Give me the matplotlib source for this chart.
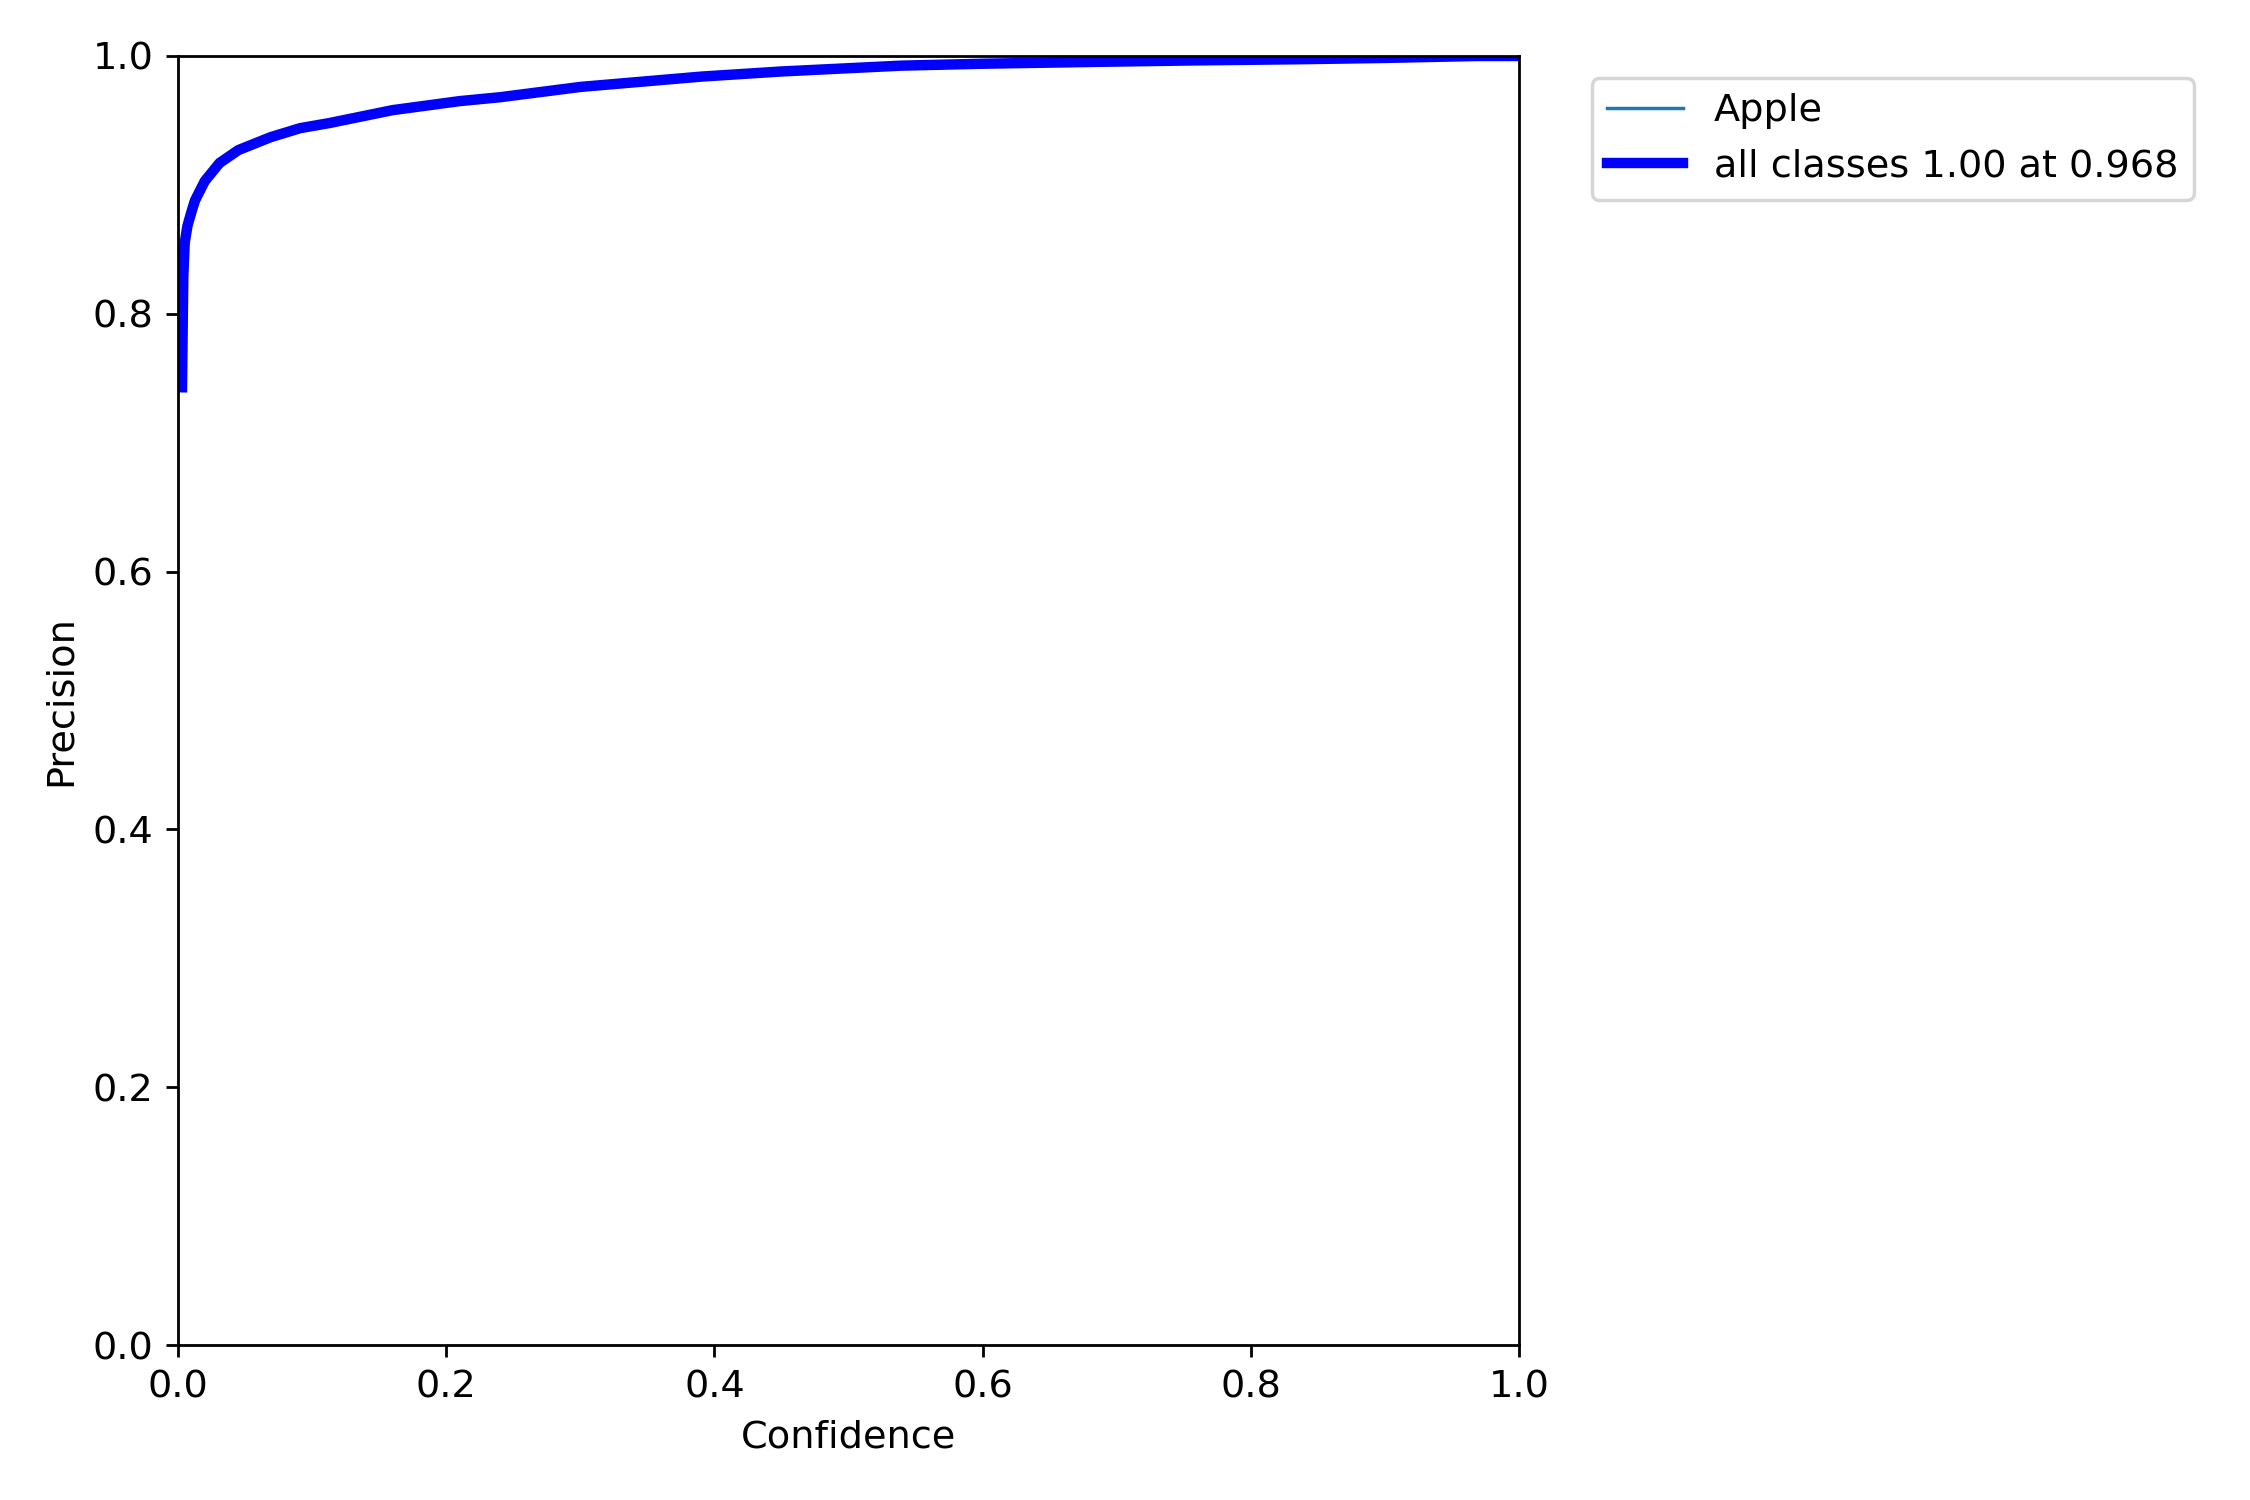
import matplotlib
matplotlib.use("Agg")
import matplotlib.pyplot as plt

plt.rcParams["font.size"] = 11

confidence = [0.003, 0.0035, 0.004, 0.005, 0.007, 0.010, 0.0127, 0.02, 0.031, 0.045,
              0.069, 0.091, 0.113, 0.16, 0.21, 0.24, 0.30, 0.39, 0.45, 0.539,
              0.60, 0.688, 0.76, 0.837, 0.90, 0.968, 1.0]
precision_apple = [0.743, 0.79, 0.83, 0.855, 0.868, 0.879, 0.888, 0.903, 0.917, 0.927,
                   0.937, 0.944, 0.948, 0.958, 0.965, 0.968, 0.976, 0.984, 0.988, 0.9925,
                   0.994, 0.9955, 0.9966, 0.9975, 0.9985, 1.0, 1.0]
precision_all = list(precision_apple)

fig, ax = plt.subplots(1, 1, figsize=(9, 6))
fig.subplots_adjust(left=178 / 2250, right=1519 / 2250, top=1 - 56 / 1500, bottom=1 - 1345 / 1500)
ax.plot(confidence, precision_apple, linewidth=1, label="Apple")
ax.plot(confidence, precision_all, linewidth=3, color="blue", label="all classes 1.00 at 0.968")
ax.set_xlabel("Confidence")
ax.set_ylabel("Precision")
ax.set_xlim(0, 1)
ax.set_ylim(0, 1)
ax.legend(bbox_to_anchor=(1.04, 0.9977), loc="upper left")
fig.savefig("out.png", dpi=250)
